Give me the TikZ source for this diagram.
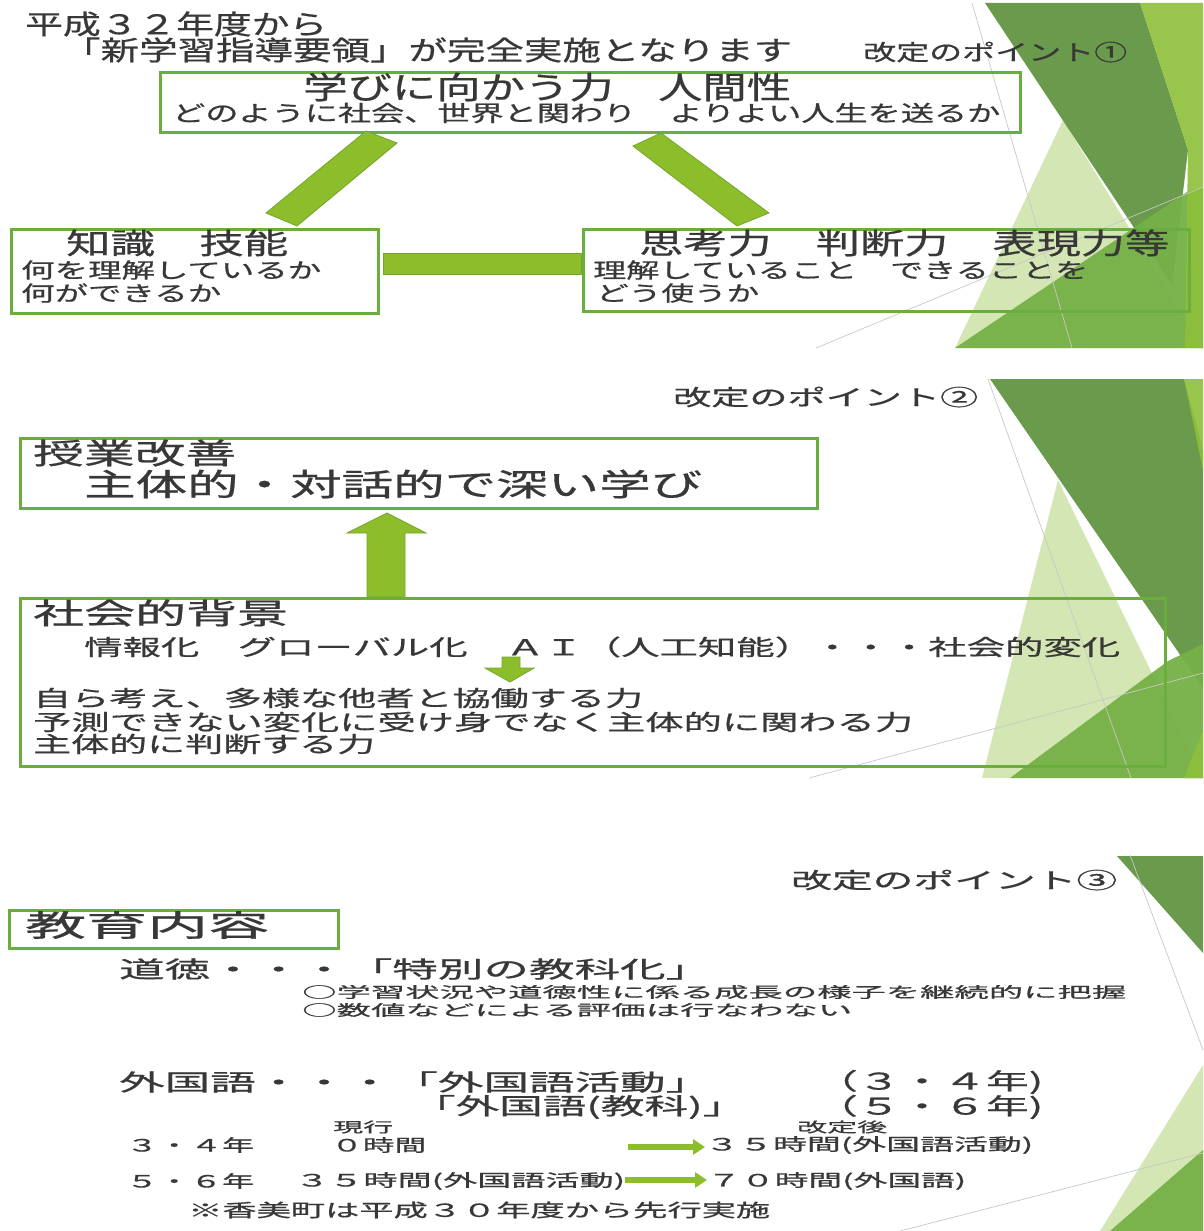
\documentclass[tikz,border=0pt]{standalone}
\usepackage{fontspec}
\usepackage{graphicx}
\usetikzlibrary{arrows.meta}
\newfontfamily\jp{Noto Sans CJK JP}[FakeBold=0.6]
\definecolor{tc}{HTML}{383838}
\definecolor{boxg}{HTML}{6AAE3E}
\definecolor{barf}{HTML}{8CBE2C}
\definecolor{bard}{HTML}{74A52B}
\definecolor{dkg}{HTML}{6A9A4C}
\definecolor{limeg}{HTML}{8DC03A}
\definecolor{ltg}{HTML}{D3E6B3}
\definecolor{mdg}{HTML}{76B147}
\definecolor{gl}{HTML}{C8C8C8}
\newcommand{\fsz}[1]{\fontsize{#1pt}{#1pt}\selectfont}
\newcommand{\wtx}[3]{\resizebox{#1pt}{\height}{\fsz{#2}#3}}
\begin{document}
\begin{tikzpicture}[x=1pt,y=-1pt,
  txt/.style={anchor=west,inner sep=0pt,text=tc,font=\jp},
  gbox/.style={draw=boxg,line width=2.6pt},
  barshape/.style={fill=barf,draw=bard,line width=0.8pt},
  facetline/.style={draw=gl,line width=0.7pt},
  harrow/.style={draw=barf,line width=6pt,-{Triangle[length=12pt,width=15pt]}}]
\useasboundingbox (0,0) rectangle (1203,1231);
\fill[white] (0,0) rectangle (1203,1231);

% ---------- facet decorations ----------
% slide 1
\fill[ltg] (1063,120) -- (955,348) -- (1203,348) -- cycle;
\fill[dkg] (985,3) -- (1140,3) -- (1188,150) -- (1172,285) -- cycle;
\fill[mdg,opacity=0.95] (955,348) -- (1190,190) -- (1203,188) -- (1203,348) -- cycle;
\fill[limeg,opacity=0.9] (1140,3) -- (1203,3) -- (1203,348) -- (1185,348) -- (1188,150) -- cycle;
\draw[facetline] (972,3) -- (1072,348);
\draw[facetline] (816,348) -- (1203,187);
% slide 2
\fill[ltg] (1058,480) -- (982,778) -- (1203,778) -- cycle;
\fill[dkg] (990,379) -- (1184,379) -- (1203,450) -- (1203,688) -- cycle;
\fill[mdg,opacity=0.95] (1010,778) -- (1168,661) -- (1203,644) -- (1203,778) -- cycle;
\fill[limeg,opacity=0.9] (1184,379) -- (1203,379) -- (1203,470) -- cycle;
\fill[limeg,opacity=0.9] (1184,778) -- (1203,730) -- (1203,778) -- cycle;
\draw[facetline] (988,379) -- (1131,778);
\draw[facetline] (809,778) -- (1203,673);
% slide 3
\fill[dkg] (1117,856) -- (1203,856) -- (1203,953) -- cycle;
\fill[ltg] (1203,1065) -- (1100,1231) -- (1203,1231) -- cycle;
\fill[mdg,opacity=0.95] (1203,1150) -- (1110,1231) -- (1203,1231) -- cycle;
\draw[facetline] (1130,855) -- (1203,1050);
\draw[facetline] (900,1231) -- (1203,1153);

% ---------- slide 1 ----------
\node[gbox,anchor=north west,minimum width=860pt,minimum height=60pt,inner sep=0pt] (b1) at (159,71) {};
\node[gbox,anchor=north west,minimum width=367pt,minimum height=84pt,inner sep=0pt] (b2) at (10,228) {};
\node[gbox,anchor=north west,minimum width=606pt,minimum height=82pt,inner sep=0pt] (b3) at (582,228) {};
\filldraw[barshape] (366,131) -- (397,143) -- (297,226) -- (266,213) -- cycle;
\filldraw[barshape] (633,146) -- (661,133) -- (769,213) -- (737,226) -- cycle;
\filldraw[barshape] (383,253) rectangle (581,274);

\node[txt] (t1) at (25,24) {\wtx{302}{27}{平成３２年度から}};
\node[txt] (t2) at (62,50) {\wtx{730}{27}{「新学習指導要領」が完全実施となります}};
\node[txt] (t3) at (863,52) {\wtx{264}{22}{改定のポイント①}};
\node[txt] (t4) at (303,87) {\wtx{488}{31}{学びに向かう力　人間性}};
\node[txt] (t5) at (172,113) {\wtx{828}{22}{どのように社会、世界と関わり　よりよい人生を送るか}};
\node[txt] (t6) at (66,243) {\wtx{222}{29}{知識　技能}};
\node[txt] (t7) at (21,270) {\wtx{300}{21}{何を理解しているか}};
\node[txt] (t8) at (21,293) {\wtx{200}{21}{何ができるか}};
\node[txt] (t9) at (639,243) {\wtx{530}{29}{思考力　判断力　表現力等}};
\node[txt] (t10) at (593,270) {\wtx{495}{21}{理解していること　できることを}};
\node[txt] (t11) at (596,293) {\wtx{163}{21}{どう使うか}};

% ---------- slide 2 ----------
\node[txt] (t12) at (673,397) {\wtx{305}{22}{改定のポイント②}};
\node[gbox,anchor=north west,minimum width=797pt,minimum height=70pt,inner sep=0pt] (ba) at (19,437) {};
\node[gbox,anchor=north west,minimum width=1145pt,minimum height=168pt,inner sep=0pt] (bb) at (19,597) {};
\filldraw[barshape] (367,597) -- (367,533) -- (347,533) -- (387,513) -- (426,533) -- (405,533) -- (405,597) -- cycle;
\filldraw[barshape] (502,657) -- (520,657) -- (520,668) -- (534,668) -- (510,682) -- (485,668) -- (502,668) -- cycle;
\node[txt] (t13) at (33,453) {\wtx{203}{29}{授業改善}};
\node[txt] (t14) at (84,484) {\wtx{618}{31}{主体的・対話的で深い学び}};
\node[txt] (t15) at (33,613) {\wtx{255}{29}{社会的背景}};
\node[txt] (t16) at (84,647) {\wtx{1036}{22}{情報化　グローバル化　ＡＩ（人工知能）・・・社会的変化}};
\node[txt] (t17) at (33,698) {\wtx{610}{22}{自ら考え、多様な他者と協働する力}};
\node[txt] (t18) at (33,722) {\wtx{880}{22}{予測できない変化に受け身でなく主体的に関わる力}};
\node[txt] (t19) at (33,744) {\wtx{342}{22}{主体的に判断する力}};

% ---------- slide 3 ----------
\node[txt] (t20) at (791,880) {\wtx{326}{22}{改定のポイント③}};
\node[gbox,anchor=north west,minimum width=329pt,minimum height=38pt,inner sep=0pt] (bc) at (8,909) {};
\node[txt] (t21) at (25,925) {\wtx{244}{30}{教育内容}};
\node[txt] (t22) at (119,969) {\wtx{592}{23}{道徳・・・「特別の教科化」}};
\node[txt] (t23) at (302,992) {\wtx{824}{15}{○学習状況や道徳性に係る成長の様子を継続的に把握}};
\node[txt] (t24) at (302,1010) {\wtx{550}{15}{○数値などによる評価は行なわない}};
\node[txt] (t25) at (119,1082) {\wtx{592}{23}{外国語・・・「外国語活動」}};
\node[txt] (t26) at (815,1082) {\wtx{228}{23}{（３・４年)}};
\node[txt] (t27) at (412,1107) {\wtx{334}{23}{「外国語(教科)」}};
\node[txt] (t28) at (815,1107) {\wtx{228}{23}{（５・６年)}};
\node[txt] (t29) at (333,1127) {\wtx{60}{14}{現行}};
\node[txt] (t30) at (797,1127) {\wtx{90}{14}{改定後}};
\node[txt] (t31) at (126,1145) {\wtx{128}{17}{３・４年}};
\node[txt] (t32) at (331,1145) {\wtx{95}{17}{０時間}};
\node[txt] (t33) at (705,1145) {\wtx{328}{17}{３５時間(外国語活動)}};
\node[txt] (t34) at (126,1181) {\wtx{128}{17}{５・６年}};
\node[txt] (t35) at (295,1181) {\wtx{330}{17}{３５時間(外国語活動)}};
\node[txt] (t36) at (707,1181) {\wtx{259}{17}{７０時間(外国語)}};
\node[txt] (t37) at (188,1210) {\wtx{582}{18}{※香美町は平成３０年度から先行実施}};
\coordinate (a1s) at (628,1147);
\draw[harrow] (a1s) -- (t33.west |- a1s);
\draw[harrow] (t35.east |- 0,1180) -- (t36.west |- 0,1180);
\end{tikzpicture}
\end{document}
